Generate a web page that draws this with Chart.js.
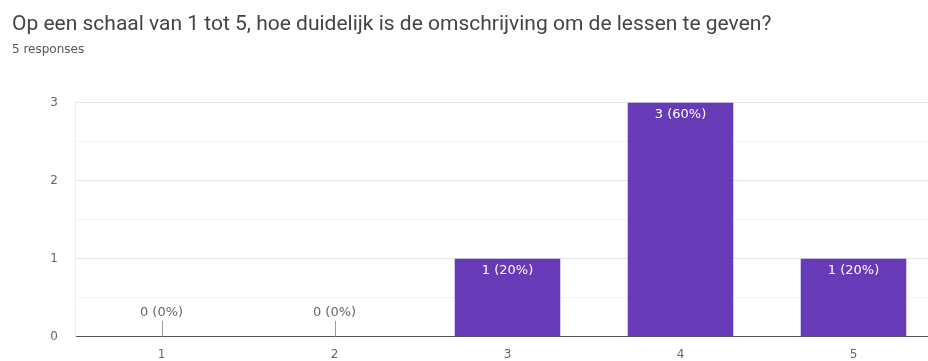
<!DOCTYPE html>
<html>
<head>
<meta charset="utf-8">
<script src="https://cdn.jsdelivr.net/npm/chart.js@4"></script>
<style>
  html, body { margin: 0; padding: 0; background: #fff; overflow: hidden; }
  #wrap { position: absolute; left: 0; top: 0; width: 951px; height: 361px; }
</style>
</head>
<body>
<div id="wrap"><canvas id="chart"></canvas></div>
<script>
// data
const questionTitle = 'Op een schaal van 1 tot 5, hoe duidelijk is de omschrijving om de lessen te geven?';
const responsesText = '5 responses';
const scores = ['1', '2', '3', '4', '5'];
const counts = [0, 0, 1, 3, 1];
const yTicks = [0, 1, 2, 3];

const total = counts.reduce((a, b) => a + b, 0);
const barColor = '#673ab7';

// "n (x%)" labels: white inside bar, grey above baseline for empty ones
const barLabels = {
  id: 'barLabels',
  afterDatasetsDraw(chart) {
    const ctx = chart.ctx;
    const meta = chart.getDatasetMeta(0);
    const base = chart.scales.y.getPixelForValue(0);
    ctx.save();
    ctx.font = '13px "DejaVu Sans"';
    ctx.textAlign = 'center';
    ctx.textBaseline = 'middle';
    meta.data.forEach((bar, i) => {
      const v = counts[i];
      const txt = v + ' (' + Math.round(v / total * 100) + '%)';
      if (v > 0) {
        ctx.fillStyle = '#ffffff';
        ctx.fillText(txt, bar.x, bar.y + 12);
      } else {
        ctx.strokeStyle = '#9a9a9a';
        ctx.lineWidth = 1;
        ctx.beginPath();
        ctx.moveTo(Math.round(bar.x) + 0.5, base - 16);
        ctx.lineTo(Math.round(bar.x) + 0.5, base);
        ctx.stroke();
        ctx.fillStyle = '#666666';
        ctx.fillText(txt, bar.x, base - 24);
      }
    });
    ctx.restore();
  }
};

new Chart(document.getElementById('chart'), {
  type: 'bar',
  data: {
    labels: scores,
    datasets: [{
      data: counts,
      backgroundColor: barColor,
      barPercentage: 0.61,
      categoryPercentage: 1
    }]
  },
  options: {
    responsive: true,
    maintainAspectRatio: false,
    animation: false,
    layout: { padding: { left: 12, right: 11, top: 0, bottom: 0 } },
    plugins: {
      legend: { display: false },
      tooltip: { enabled: false },
      title: {
        display: true,
        text: questionTitle,
        align: 'start',
        color: '#444444',
        font: { family: 'Roboto', size: 21, weight: 'normal' },
        padding: { top: 12, bottom: 5 }
      },
      subtitle: {
        display: true,
        text: responsesText,
        align: 'start',
        color: '#555555',
        font: { family: 'DejaVu Sans', size: 12 },
        padding: { top: 0, bottom: 46 }
      }
    },
    scales: {
      x: {
        afterFit(scale) { scale.height = 22; },
        grid: { display: false, drawTicks: false },
        border: { color: '#555555', width: 1 },
        ticks: { color: '#666666', font: { family: 'DejaVu Sans', size: 12 }, padding: 11 }
      },
      y: {
        min: 0,
        max: 3,
        afterFit(scale) { scale.width = 63; },
        grid: {
          drawTicks: false,
          color: ctx => Number.isInteger(ctx.tick.value) ? '#e6e6e6' : '#f4f4f4'
        },
        border: { color: '#ececec' },
        ticks: {
          stepSize: 0.5,
          padding: 17,
          color: '#666666',
          font: { family: 'DejaVu Sans', size: 12 },
          callback: v => yTicks.includes(v) ? String(v) : ''
        }
      }
    }
  },
  plugins: [barLabels]
});
</script>
</body>
</html>
